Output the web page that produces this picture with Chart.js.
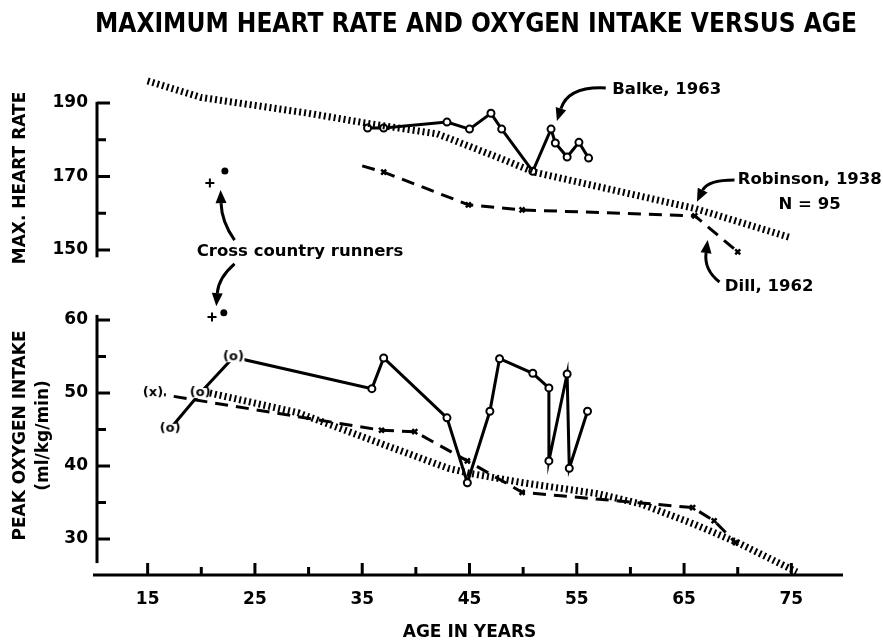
<!DOCTYPE html>
<html>
<head>
<meta charset="utf-8">
<script src="https://cdn.jsdelivr.net/npm/chart.js@4.4.1/dist/chart.umd.min.js"></script>
<style>
  html, body { margin: 0; padding: 0; background: #fff; }
  #wrap { position: relative; width: 883px; height: 643px; }
  #chart { position: absolute; left: 0; top: 0; }
  #title {
    position: absolute; top: 9px; left: 476px;
    font: bold 27px "DejaVu Sans", sans-serif; line-height: 27px;
    white-space: nowrap; color: #000; transform-origin: 0 0;
  }
</style>
</head>
<body>
<div id="wrap">
  <canvas id="chart" width="883" height="643"></canvas>
  <div id="title">MAXIMUM HEART RATE AND OXYGEN INTAKE VERSUS AGE</div>
</div>
<script>
// --- ticks ---
const ageTicks = [15, 25, 35, 45, 55, 65, 75];
const ageMinorTicks = [20, 30, 40, 50, 60, 70];
const hrTicks = [150, 170, 190];
const hrMinorTicks = [160, 180];
const o2Ticks = [30, 40, 50, 60];
const o2MinorTicks = [35, 45, 55];

// --- max heart rate (top panel) ---
const robinsonHrAge = [15, 20, 30, 35, 42, 48, 51, 66, 75];
const robinsonHr = [196, 191.5, 187.2, 184.7, 181.6, 174.8, 171.2, 161.3, 153.3];
const balkeHrAge = [35.5, 37, 42.9, 45, 47, 48, 50.9, 52.6, 53, 54.1, 55.2, 56.1];
const balkeHr = [183.2, 183.2, 184.8, 182.9, 187.2, 182.9, 171.4, 182.9, 179.1, 175.3, 179.3, 175];
const dillHrAge = [35, 37, 44.9, 49.9, 66, 70];
const dillHr = [172.9, 171.2, 162.3, 160.9, 159.3, 149.5];
const runnersHrAge = [20.8, 22.2];
const runnersHr = [168.2, 171.5];

// --- peak oxygen intake (bottom panel) ---
const robinsonO2Age = [20.8, 29, 35.4, 43, 45, 50, 57, 61, 66, 70, 75.5];
const robinsonO2 = [50, 47.3, 43.8, 39.7, 39, 37.7, 36.2, 34.8, 32, 29.5, 25.5];
const balkeO2Age = [17.1, 19.9, 23, 35.9, 37, 42.9, 44.8, 46.9, 47.8, 50.9, 52.4, 52.4, 54.1, 54.3, 56];
const balkeO2 = [45.1, 50, 54.9, 50.6, 54.8, 46.6, 37.7, 47.5, 54.7, 52.7, 50.7, 40.7, 52.6, 39.7, 47.5];
const balkeO2Bracketed = [true, true, true, false, false, false, false, false, false, false, false, false, false, false, false];
const dillO2Age = [15.5, 36.8, 39.9, 44.8, 49.9, 65.8, 67.8, 69.8];
const dillO2 = [50, 44.9, 44.7, 40.7, 36.4, 34.3, 32.5, 29.5];
const dillO2Bracketed = [true, false, false, false, false, false, false, false];
const runnersO2Age = [21, 22.1];
const runnersO2 = [60.4, 61];

// --- labels ---
const chartTitle = "MAXIMUM HEART RATE AND OXYGEN INTAKE VERSUS AGE";
const noteBalke = "Balke, 1963";
const noteRobinson = ["Robinson, 1938", "N = 95"];
const noteDill = "Dill, 1962";
const noteRunners = "Cross country runners";

// title: stretch the lettering to the width of the original
const titleEl = document.getElementById("title");
titleEl.textContent = chartTitle;
const tw = titleEl.getBoundingClientRect().width;
titleEl.style.transform = `translateX(-381px) scaleX(${762 / tw})`;

const FONT = '"DejaVu Sans", sans-serif';
Chart.defaults.font.family = FONT;
Chart.defaults.font.weight = "bold";
Chart.defaults.color = "#000";

const pts = (xs, ys) => xs.map((x, i) => ({ x, y: ys[i] }));

// "(o)" / "(x)" markers, on a white patch so the line stops at them
function bracketMarker(txt) {
  const c = document.createElement("canvas");
  c.width = 24; c.height = 14;
  const g = c.getContext("2d");
  g.fillStyle = "#fff";
  g.fillRect(1, 2, 22, 10);
  g.font = `bold 13px ${FONT}`;
  g.textAlign = "center";
  g.textBaseline = "middle";
  g.fillStyle = "#000";
  g.fillText(txt, 12, 7);
  return c;
}
const markO = bracketMarker("(o)");
const markX = bracketMarker("(x)");

// axis lines with inward tick marks
const axisLines = {
  id: "axisLines",
  beforeDatasetsDraw(chart) {
    const { ctx, chartArea: a, scales: { x, y1, y2 } } = chart;
    const seg = (x0, y0, x1, yy1) => { ctx.beginPath(); ctx.moveTo(x0, y0); ctx.lineTo(x1, yy1); ctx.stroke(); };
    ctx.save();
    ctx.strokeStyle = "#000";
    ctx.lineWidth = 3;
    const ax = a.left + 3;

    seg(ax, y1.getPixelForValue(190.3), ax, y1.getPixelForValue(148));
    hrTicks.forEach(v => seg(ax, y1.getPixelForValue(v), ax + 13, y1.getPixelForValue(v)));
    hrMinorTicks.forEach(v => seg(ax, y1.getPixelForValue(v), ax + 9, y1.getPixelForValue(v)));

    seg(ax, y2.getPixelForValue(60.7), ax, y2.getPixelForValue(26.7));
    o2Ticks.forEach(v => seg(ax, y2.getPixelForValue(v), ax + 13, y2.getPixelForValue(v)));
    o2MinorTicks.forEach(v => seg(ax, y2.getPixelForValue(v), ax + 9, y2.getPixelForValue(v)));

    const by = a.bottom;
    seg(a.left - 1, by, a.right - 2, by);
    ageTicks.forEach(v => seg(x.getPixelForValue(v), by, x.getPixelForValue(v), by - 12));
    ageMinorTicks.forEach(v => seg(x.getPixelForValue(v), by, x.getPixelForValue(v), by - 8));
    ctx.restore();
  }
};

// text notes and curved arrows, anchored in data coordinates
const notes = {
  id: "notes",
  afterDraw(chart) {
    const { ctx, scales } = chart;
    const P = (age, v, axis) => [scales.x.getPixelForValue(age), scales[axis].getPixelForValue(v)];
    ctx.save();
    ctx.fillStyle = "#000";
    ctx.strokeStyle = "#000";
    ctx.font = `bold 16.5px ${FONT}`;
    ctx.textBaseline = "middle";

    const text = (s, p, align) => { ctx.textAlign = align; ctx.fillText(s, p[0], p[1]); };
    text(noteBalke, P(58.3, 193.5, "y1"), "left");
    text(noteRobinson[0], P(70.0, 169.05, "y1"), "left");
    text(noteRobinson[1], P(76.7, 162.2, "y1"), "center");
    text(noteDill, P(68.8, 139.9, "y1"), "left");
    text(noteRunners, P(29.2, 149.4, "y1"), "center");

    const arrow = (s, c, t) => {
      const ang = Math.atan2(t[1] - c[1], t[0] - c[0]);
      const L = 13, W = 5.5;
      const bx = t[0] - L * Math.cos(ang), by = t[1] - L * Math.sin(ang);
      ctx.lineWidth = 3;
      ctx.beginPath();
      ctx.moveTo(s[0], s[1]);
      ctx.quadraticCurveTo(c[0], c[1], bx, by);
      ctx.stroke();
      ctx.beginPath();
      ctx.moveTo(t[0], t[1]);
      ctx.lineTo(bx + W * Math.sin(ang), by - W * Math.cos(ang));
      ctx.lineTo(bx - W * Math.sin(ang), by + W * Math.cos(ang));
      ctx.closePath();
      ctx.fill();
    };
    arrow(P(57.7, 194.1, "y1"), P(54.2, 194.6, "y1"), P(53.15, 185.1, "y1"));
    arrow(P(69.7, 169.05, "y1"), P(67.2, 169.05, "y1"), P(66.2, 163.1, "y1"));
    arrow(P(68.3, 141.3, "y1"), P(66.85, 144.6, "y1"), P(67.2, 152.7, "y1"));
    arrow(P(23.1, 152.7, "y1"), P(21.9, 157.6, "y1"), P(21.8, 166.3, "y1"));
    arrow(P(23.1, 146.2, "y1"), P(21.6, 142.4, "y1"), P(21.4, 61.9, "y2"));
    ctx.restore();
  }
};

const solid = { borderColor: "#000", borderWidth: 3, pointBorderColor: "#000", pointBackgroundColor: "#fff", pointBorderWidth: 2 };
const dashed = { borderColor: "#000", borderWidth: 3, borderDash: [13, 8], pointBorderColor: "#000", pointBorderWidth: 2.5 };
const dotted = { borderColor: "#000", borderWidth: 7, borderDash: [2, 3], borderCapStyle: "butt", pointRadius: 0 };

new Chart(document.getElementById("chart"), {
  type: "line",
  data: {
    datasets: [
      { label: "Robinson, 1938", data: pts(robinsonHrAge, robinsonHr), yAxisID: "y1", ...dotted },
      { label: "Balke, 1963", data: pts(balkeHrAge, balkeHr), yAxisID: "y1", ...solid, pointRadius: 3.5 },
      { label: "Dill, 1962", data: pts(dillHrAge, dillHr), yAxisID: "y1", ...dashed,
        pointStyle: "crossRot", pointRadius: dillHrAge.map((a, i) => i === 0 ? 0 : 3.5) },
      { label: "Cross country runners", data: pts(runnersHrAge, runnersHr), yAxisID: "y1", showLine: false,
        pointStyle: ["cross", "circle"], pointRadius: [4.5, 2.5], pointBorderWidth: 2,
        pointBorderColor: "#000", pointBackgroundColor: "#000" },

      { label: "Robinson, 1938", data: pts(robinsonO2Age, robinsonO2), yAxisID: "y2", ...dotted },
      { label: "Dill, 1962", data: pts(dillO2Age, dillO2), yAxisID: "y2", ...dashed,
        pointStyle: dillO2Bracketed.map(b => b ? markX : "crossRot"), pointRadius: 3.5 },
      { label: "Balke, 1963", data: pts(balkeO2Age, balkeO2), yAxisID: "y2", ...solid,
        pointStyle: balkeO2Bracketed.map(b => b ? markO : "circle"), pointRadius: 3.5 },
      { label: "Cross country runners", data: pts(runnersO2Age, runnersO2), yAxisID: "y2", showLine: false,
        pointStyle: ["cross", "circle"], pointRadius: [4.5, 2.5], pointBorderWidth: 2,
        pointBorderColor: "#000", pointBackgroundColor: "#000" }
    ]
  },
  options: {
    responsive: false,
    animation: false,
    devicePixelRatio: 1,
    layout: { padding: { top: 60, right: 38, left: 0, bottom: 0 } },
    plugins: { legend: { display: false }, tooltip: { enabled: false } },
    elements: { line: { tension: 0 } },
    scales: {
      x: {
        type: "linear", min: 10, max: 80,
        grid: { display: false, drawTicks: false },
        border: { display: false },
        ticks: { font: { size: 17, weight: "bold" }, padding: 14 },
        afterBuildTicks: s => { s.ticks = ageTicks.map(v => ({ value: v })); },
        afterFit: s => { s.height = 68; },
        title: { display: true, text: "AGE IN YEARS", font: { size: 17, weight: "bold" }, padding: { top: 0, bottom: 0 } }
      },
      y1: {
        type: "linear", position: "left", stack: "panels", stackWeight: 236, weight: 1,
        min: 137.48, max: 201.7,
        grid: { display: false, drawTicks: false },
        border: { display: false },
        ticks: { font: { size: 17, weight: "bold" }, padding: 6 },
        afterBuildTicks: s => { s.ticks = hrTicks.map(v => ({ value: v })); },
        afterFit: s => { s.width = 94; },
        title: { display: true, text: "MAX. HEART RATE", font: { size: 17, weight: "bold", lineHeight: 1.3 }, padding: { top: 10, bottom: 0 } }
      },
      y2: {
        type: "linear", position: "left", stack: "panels", stackWeight: 279, weight: 0,
        min: 25.07, max: 63.29,
        grid: { display: false, drawTicks: false },
        border: { display: false },
        ticks: { font: { size: 17, weight: "bold" }, padding: 6 },
        afterBuildTicks: s => { s.ticks = o2Ticks.map(v => ({ value: v })); },
        afterFit: s => { s.width = 94; },
        title: { display: true, text: ["PEAK OXYGEN INTAKE", "(ml/kg/min)"], font: { size: 17, weight: "bold", lineHeight: 1.3 }, padding: { top: 10, bottom: 0 } }
      }
    }
  },
  plugins: [axisLines, notes]
});
</script>
</body>
</html>
